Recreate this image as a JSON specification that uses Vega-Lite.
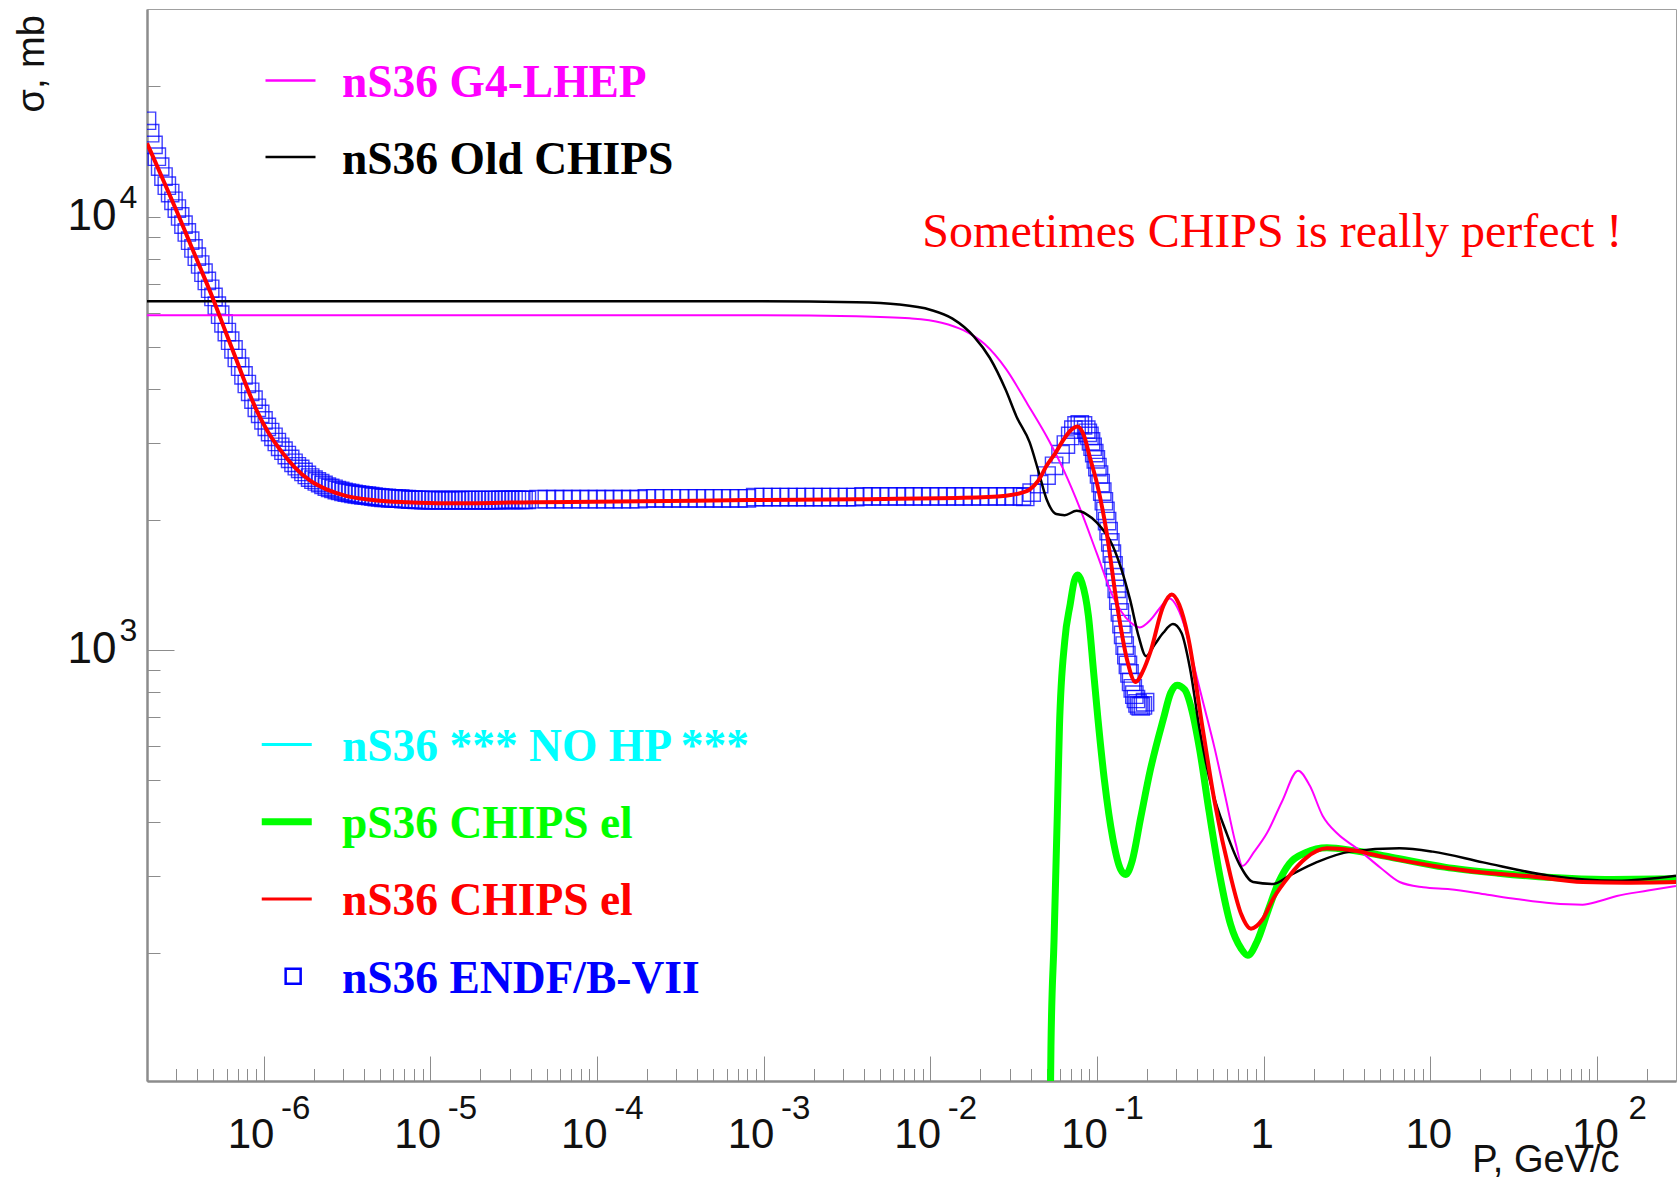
{
  "$schema": "https://vega.github.io/schema/vega-lite/v6.json",
  "width": 1529,
  "height": 1072,
  "autosize": {"type": "none"},
  "padding": {"left": 147, "top": 9, "right": 2, "bottom": 97},
  "background": "white",
  "config": {
    "font": "Liberation Sans",
    "view": {"stroke": "#a0a0a0", "strokeWidth": 1},
    "axis": {"grid": false, "labelColor": "#111111", "tickColor": "#8c8c8c", "labelFont": "Liberation Sans", "labelFlush": false, "labelOverlap": false, "labelBound": false}
  },
  "datasets": {
    "g4lhep": [
      {"p": 2e-7, "sigma": 5929}, {"p": 8.2e-4, "sigma": 5929}, {"p": 3.6e-3, "sigma": 5896}, {"p": 7.53e-3, "sigma": 5829},
      {"p": 1.17e-2, "sigma": 5696}, {"p": 1.58e-2, "sigma": 5474}, {"p": 2.12e-2, "sigma": 5083}, {"p": 2.84e-2, "sigma": 4461},
      {"p": 3.83e-2, "sigma": 3698}, {"p": 5.14e-2, "sigma": 3048}, {"p": 6.32e-2, "sigma": 2600}, {"p": 8.02e-2, "sigma": 2094},
      {"p": 0.1, "sigma": 1668}, {"p": 0.1247, "sigma": 1329}, {"p": 0.1581, "sigma": 1159}, {"p": 0.1807, "sigma": 1127},
      {"p": 0.2094, "sigma": 1172}, {"p": 0.2355, "sigma": 1241}, {"p": 0.2729, "sigma": 1314}, {"p": 0.3027, "sigma": 1256},
      {"p": 0.3412, "sigma": 1108}, {"p": 0.3784, "sigma": 934}, {"p": 0.4385, "sigma": 744}, {"p": 0.5082, "sigma": 593},
      {"p": 0.5888, "sigma": 459}, {"p": 0.6823, "sigma": 355}, {"p": 0.7464, "sigma": 317}, {"p": 0.879, "sigma": 342},
      {"p": 1.05, "sigma": 378}, {"p": 1.288, "sigma": 446}, {"p": 1.611, "sigma": 526}, {"p": 1.892, "sigma": 486},
      {"p": 2.259, "sigma": 414}, {"p": 2.78, "sigma": 376}, {"p": 3.631, "sigma": 348}, {"p": 5.023, "sigma": 314},
      {"p": 6.546, "sigma": 291}, {"p": 9.078, "sigma": 283}, {"p": 13.12, "sigma": 280}, {"p": 22.03, "sigma": 272},
      {"p": 32.81, "sigma": 266}, {"p": 53.46, "sigma": 260}, {"p": 82.04, "sigma": 258}, {"p": 104, "sigma": 263},
      {"p": 131.5, "sigma": 270}, {"p": 202.3, "sigma": 278}, {"p": 298, "sigma": 285}
    ],
    "oldchips": [
      {"p": 2e-7, "sigma": 6383}, {"p": 8.2e-4, "sigma": 6383}, {"p": 3.6e-3, "sigma": 6346}, {"p": 6.5e-3, "sigma": 6273},
      {"p": 1.01e-2, "sigma": 6095}, {"p": 1.36e-2, "sigma": 5821}, {"p": 1.83e-2, "sigma": 5291}, {"p": 2.28e-2, "sigma": 4721},
      {"p": 2.84e-2, "sigma": 3981}, {"p": 3.3e-2, "sigma": 3451}, {"p": 3.95e-2, "sigma": 3013}, {"p": 4.44e-2, "sigma": 2600},
      {"p": 4.99e-2, "sigma": 2228}, {"p": 5.7e-2, "sigma": 2059}, {"p": 6.41e-2, "sigma": 2047}, {"p": 7.55e-2, "sigma": 2094},
      {"p": 8.63e-2, "sigma": 2059}, {"p": 0.1, "sigma": 1967}, {"p": 0.1247, "sigma": 1736}, {"p": 0.1581, "sigma": 1306},
      {"p": 0.1778, "sigma": 1076}, {"p": 0.1972, "sigma": 967}, {"p": 0.2223, "sigma": 1029}, {"p": 0.25, "sigma": 1095},
      {"p": 0.2858, "sigma": 1147}, {"p": 0.3214, "sigma": 1095}, {"p": 0.3614, "sigma": 908}, {"p": 0.413, "sigma": 656},
      {"p": 0.4932, "sigma": 472}, {"p": 0.5984, "sigma": 378}, {"p": 0.7244, "sigma": 317}, {"p": 0.865, "sigma": 291},
      {"p": 1.146, "sigma": 288}, {"p": 1.429, "sigma": 301}, {"p": 2.07, "sigma": 323}, {"p": 3.319, "sigma": 342},
      {"p": 6.546, "sigma": 348}, {"p": 10.35, "sigma": 342}, {"p": 20.75, "sigma": 323}, {"p": 51.88, "sigma": 301},
      {"p": 131.5, "sigma": 293}, {"p": 298, "sigma": 301}
    ],
    "chips_n": [
      {"p": 2e-7, "sigma": 14790}, {"p": 2.249e-7, "sigma": 13360}, {"p": 2.606e-7, "sigma": 11730}, {"p": 3.02e-7, "sigma": 10290},
      {"p": 3.499e-7, "sigma": 8978}, {"p": 4.055e-7, "sigma": 7831}, {"p": 4.989e-7, "sigma": 6455}, {"p": 5.875e-7, "sigma": 5474},
      {"p": 6.808e-7, "sigma": 4721}, {"p": 7.889e-7, "sigma": 4073}, {"p": 9.152e-7, "sigma": 3553}, {"p": 1.062e-6, "sigma": 3190},
      {"p": 1.247e-6, "sigma": 2912}, {"p": 1.535e-6, "sigma": 2644}, {"p": 1.914e-6, "sigma": 2455}, {"p": 2.393e-6, "sigma": 2347},
      {"p": 3.119e-6, "sigma": 2268}, {"p": 4.645e-6, "sigma": 2217}, {"p": 7.244e-6, "sigma": 2193}, {"p": 1.253e-5, "sigma": 2180},
      {"p": 4.266e-5, "sigma": 2193}, {"p": 1.871e-4, "sigma": 2203}, {"p": 8.204e-4, "sigma": 2218}, {"p": 3.597e-3, "sigma": 2228},
      {"p": 1.578e-2, "sigma": 2244}, {"p": 2.844e-2, "sigma": 2270}, {"p": 3.556e-2, "sigma": 2307}, {"p": 3.945e-2, "sigma": 2344},
      {"p": 4.436e-2, "sigma": 2455}, {"p": 4.989e-2, "sigma": 2661}, {"p": 5.623e-2, "sigma": 2844}, {"p": 6.324e-2, "sigma": 3062},
      {"p": 6.918e-2, "sigma": 3206}, {"p": 7.656e-2, "sigma": 3281}, {"p": 8.375e-2, "sigma": 3119}, {"p": 9.141e-2, "sigma": 2754},
      {"p": 0.1, "sigma": 2427}, {"p": 0.1143, "sigma": 1871}, {"p": 0.1306, "sigma": 1306}, {"p": 0.1514, "sigma": 951},
      {"p": 0.1702, "sigma": 843}, {"p": 0.1888, "sigma": 893}, {"p": 0.2094, "sigma": 989}, {"p": 0.25, "sigma": 1262},
      {"p": 0.2812, "sigma": 1343}, {"p": 0.3119, "sigma": 1271}, {"p": 0.3516, "sigma": 1076}, {"p": 0.4315, "sigma": 656},
      {"p": 0.5082, "sigma": 446}, {"p": 0.6339, "sigma": 300}, {"p": 0.7345, "sigma": 245}, {"p": 0.8395, "sigma": 227},
      {"p": 0.9886, "sigma": 239}, {"p": 1.146, "sigma": 267}, {"p": 1.429, "sigma": 301}, {"p": 1.786, "sigma": 330},
      {"p": 2.399, "sigma": 348}, {"p": 3.467, "sigma": 344}, {"p": 5.176, "sigma": 333}, {"p": 10.52, "sigma": 317},
      {"p": 20.75, "sigma": 306}, {"p": 39.81, "sigma": 300}, {"p": 82.04, "sigma": 291}, {"p": 150.3, "sigma": 290},
      {"p": 298, "sigma": 291}
    ],
    "chips_p": [
      {"p": 0.0514, "sigma": 40}, {"p": 0.053, "sigma": 121}, {"p": 0.0553, "sigma": 213}, {"p": 0.0579, "sigma": 421},
      {"p": 0.0596, "sigma": 664}, {"p": 0.0641, "sigma": 1047}, {"p": 0.0692, "sigma": 1277}, {"p": 0.0733, "sigma": 1447},
      {"p": 0.0766, "sigma": 1489}, {"p": 0.0813, "sigma": 1431}, {"p": 0.0889, "sigma": 1199}, {"p": 0.0957, "sigma": 882},
      {"p": 0.1015, "sigma": 691}, {"p": 0.1109, "sigma": 500}, {"p": 0.1247, "sigma": 366}, {"p": 0.1384, "sigma": 312},
      {"p": 0.1489, "sigma": 303}, {"p": 0.1629, "sigma": 326}, {"p": 0.1832, "sigma": 410}, {"p": 0.2094, "sigma": 529},
      {"p": 0.25, "sigma": 691}, {"p": 0.2773, "sigma": 796}, {"p": 0.3027, "sigma": 829}, {"p": 0.3357, "sigma": 810},
      {"p": 0.3784, "sigma": 703}, {"p": 0.413, "sigma": 590}, {"p": 0.4721, "sigma": 421}, {"p": 0.547, "sigma": 300},
      {"p": 0.6339, "sigma": 232}, {"p": 0.7345, "sigma": 204}, {"p": 0.8035, "sigma": 197}, {"p": 0.9183, "sigma": 213},
      {"p": 1.064, "sigma": 250}, {"p": 1.233, "sigma": 291}, {"p": 1.429, "sigma": 321}, {"p": 1.786, "sigma": 340},
      {"p": 2.399, "sigma": 349}, {"p": 3.467, "sigma": 344}, {"p": 5.821, "sigma": 332}, {"p": 12.19, "sigma": 315},
      {"p": 25.53, "sigma": 305}, {"p": 53.46, "sigma": 298}, {"p": 111.9, "sigma": 295}, {"p": 298, "sigma": 296}
    ],
    "endf": [
      {"p": 2.0e-7, "sigma": 16670}, {"p": 2.089e-7, "sigma": 15600}, {"p": 2.188e-7, "sigma": 14660}, {"p": 2.291e-7, "sigma": 13770},
      {"p": 2.399e-7, "sigma": 13060}, {"p": 2.512e-7, "sigma": 12390}, {"p": 2.630e-7, "sigma": 11800}, {"p": 2.754e-7, "sigma": 11350},
      {"p": 2.884e-7, "sigma": 10890}, {"p": 3.020e-7, "sigma": 10450}, {"p": 3.162e-7, "sigma": 10020}, {"p": 3.311e-7, "sigma": 9594},
      {"p": 3.467e-7, "sigma": 9204}, {"p": 3.631e-7, "sigma": 8810}, {"p": 3.802e-7, "sigma": 8453}, {"p": 3.981e-7, "sigma": 8091},
      {"p": 4.169e-7, "sigma": 7762}, {"p": 4.365e-7, "sigma": 7430}, {"p": 4.571e-7, "sigma": 7112}, {"p": 4.786e-7, "sigma": 6823},
      {"p": 5.012e-7, "sigma": 6531}, {"p": 5.248e-7, "sigma": 6237}, {"p": 5.495e-7, "sigma": 5943}, {"p": 5.754e-7, "sigma": 5675},
      {"p": 6.026e-7, "sigma": 5420}, {"p": 6.310e-7, "sigma": 5176}, {"p": 6.607e-7, "sigma": 4943}, {"p": 6.918e-7, "sigma": 4721},
      {"p": 7.244e-7, "sigma": 4508}, {"p": 7.586e-7, "sigma": 4305}, {"p": 7.943e-7, "sigma": 4111}, {"p": 8.318e-7, "sigma": 3945},
      {"p": 8.710e-7, "sigma": 3784}, {"p": 9.120e-7, "sigma": 3622}, {"p": 9.550e-7, "sigma": 3508}, {"p": 1.0e-6, "sigma": 3388},
      {"p": 1.047e-6, "sigma": 3273}, {"p": 1.096e-6, "sigma": 3184}, {"p": 1.148e-6, "sigma": 3105}, {"p": 1.202e-6, "sigma": 3020},
      {"p": 1.259e-6, "sigma": 2944}, {"p": 1.318e-6, "sigma": 2884}, {"p": 1.380e-6, "sigma": 2818}, {"p": 1.445e-6, "sigma": 2761},
      {"p": 1.514e-6, "sigma": 2704}, {"p": 1.585e-6, "sigma": 2655}, {"p": 1.660e-6, "sigma": 2618}, {"p": 1.738e-6, "sigma": 2576},
      {"p": 1.820e-6, "sigma": 2535}, {"p": 1.905e-6, "sigma": 2500}, {"p": 1.995e-6, "sigma": 2472}, {"p": 2.089e-6, "sigma": 2449},
      {"p": 2.188e-6, "sigma": 2427}, {"p": 2.291e-6, "sigma": 2404}, {"p": 2.399e-6, "sigma": 2382}, {"p": 2.512e-6, "sigma": 2366},
      {"p": 2.630e-6, "sigma": 2355}, {"p": 2.754e-6, "sigma": 2339}, {"p": 2.884e-6, "sigma": 2328}, {"p": 3.020e-6, "sigma": 2317},
      {"p": 3.162e-6, "sigma": 2307}, {"p": 3.311e-6, "sigma": 2301}, {"p": 3.467e-6, "sigma": 2291}, {"p": 3.631e-6, "sigma": 2286},
      {"p": 3.802e-6, "sigma": 2280}, {"p": 3.981e-6, "sigma": 2275}, {"p": 4.169e-6, "sigma": 2270}, {"p": 4.365e-6, "sigma": 2265},
      {"p": 4.571e-6, "sigma": 2259}, {"p": 4.786e-6, "sigma": 2254}, {"p": 5.012e-6, "sigma": 2249}, {"p": 5.248e-6, "sigma": 2244},
      {"p": 5.495e-6, "sigma": 2244}, {"p": 5.754e-6, "sigma": 2239}, {"p": 6.026e-6, "sigma": 2239}, {"p": 6.310e-6, "sigma": 2234},
      {"p": 6.607e-6, "sigma": 2234}, {"p": 6.918e-6, "sigma": 2228}, {"p": 7.244e-6, "sigma": 2228}, {"p": 7.586e-6, "sigma": 2223},
      {"p": 7.943e-6, "sigma": 2223}, {"p": 8.318e-6, "sigma": 2220}, {"p": 8.710e-6, "sigma": 2220}, {"p": 9.120e-6, "sigma": 2218},
      {"p": 9.550e-6, "sigma": 2218}, {"p": 1.0e-5, "sigma": 2218}, {"p": 1.047e-5, "sigma": 2216}, {"p": 1.096e-5, "sigma": 2216},
      {"p": 1.148e-5, "sigma": 2216}, {"p": 1.202e-5, "sigma": 2216}, {"p": 1.259e-5, "sigma": 2216}, {"p": 1.318e-5, "sigma": 2216},
      {"p": 1.380e-5, "sigma": 2216}, {"p": 1.445e-5, "sigma": 2216}, {"p": 1.514e-5, "sigma": 2216}, {"p": 1.585e-5, "sigma": 2218},
      {"p": 1.660e-5, "sigma": 2218}, {"p": 1.738e-5, "sigma": 2218}, {"p": 1.820e-5, "sigma": 2218}, {"p": 1.905e-5, "sigma": 2218},
      {"p": 1.995e-5, "sigma": 2218}, {"p": 2.089e-5, "sigma": 2218}, {"p": 2.188e-5, "sigma": 2218}, {"p": 2.291e-5, "sigma": 2218},
      {"p": 2.399e-5, "sigma": 2218}, {"p": 2.512e-5, "sigma": 2218}, {"p": 2.630e-5, "sigma": 2220}, {"p": 2.754e-5, "sigma": 2220},
      {"p": 2.884e-5, "sigma": 2220}, {"p": 3.020e-5, "sigma": 2220}, {"p": 3.162e-5, "sigma": 2220}, {"p": 3.311e-5, "sigma": 2220},
      {"p": 3.467e-5, "sigma": 2220}, {"p": 3.631e-5, "sigma": 2220}, {"p": 3.802e-5, "sigma": 2220},
      {"p": 4.467e-5, "sigma": 2228}, {"p": 5.012e-5, "sigma": 2228}, {"p": 5.623e-5, "sigma": 2228}, {"p": 6.310e-5, "sigma": 2228},
      {"p": 7.079e-5, "sigma": 2228}, {"p": 7.943e-5, "sigma": 2228}, {"p": 8.913e-5, "sigma": 2228}, {"p": 1.0e-4, "sigma": 2228},
      {"p": 1.122e-4, "sigma": 2228}, {"p": 1.259e-4, "sigma": 2228}, {"p": 1.413e-4, "sigma": 2228}, {"p": 1.585e-4, "sigma": 2228},
      {"p": 1.778e-4, "sigma": 2228}, {"p": 1.995e-4, "sigma": 2239}, {"p": 2.239e-4, "sigma": 2239}, {"p": 2.512e-4, "sigma": 2239},
      {"p": 2.818e-4, "sigma": 2239}, {"p": 3.162e-4, "sigma": 2239}, {"p": 3.548e-4, "sigma": 2239}, {"p": 3.981e-4, "sigma": 2239},
      {"p": 4.467e-4, "sigma": 2239}, {"p": 5.012e-4, "sigma": 2239}, {"p": 5.623e-4, "sigma": 2239}, {"p": 6.310e-4, "sigma": 2239},
      {"p": 7.079e-4, "sigma": 2239}, {"p": 7.943e-4, "sigma": 2239}, {"p": 8.913e-4, "sigma": 2254}, {"p": 1.0e-3, "sigma": 2254},
      {"p": 1.122e-3, "sigma": 2254}, {"p": 1.259e-3, "sigma": 2254}, {"p": 1.413e-3, "sigma": 2254}, {"p": 1.585e-3, "sigma": 2254},
      {"p": 1.778e-3, "sigma": 2254}, {"p": 1.995e-3, "sigma": 2254}, {"p": 2.239e-3, "sigma": 2254}, {"p": 2.512e-3, "sigma": 2254},
      {"p": 2.818e-3, "sigma": 2254}, {"p": 3.162e-3, "sigma": 2254}, {"p": 3.548e-3, "sigma": 2254}, {"p": 3.981e-3, "sigma": 2262},
      {"p": 4.467e-3, "sigma": 2262}, {"p": 5.012e-3, "sigma": 2262}, {"p": 5.623e-3, "sigma": 2262}, {"p": 6.310e-3, "sigma": 2262},
      {"p": 7.079e-3, "sigma": 2262}, {"p": 7.943e-3, "sigma": 2262}, {"p": 8.913e-3, "sigma": 2262}, {"p": 1.0e-2, "sigma": 2262},
      {"p": 1.122e-2, "sigma": 2262}, {"p": 1.259e-2, "sigma": 2262}, {"p": 1.413e-2, "sigma": 2262}, {"p": 1.585e-2, "sigma": 2262},
      {"p": 1.778e-2, "sigma": 2262}, {"p": 1.995e-2, "sigma": 2262}, {"p": 2.239e-2, "sigma": 2262}, {"p": 2.512e-2, "sigma": 2262},
      {"p": 2.818e-2, "sigma": 2262}, {"p": 3.162e-2, "sigma": 2262}, {"p": 3.548e-2, "sigma": 2262},
      {"p": 3.715e-2, "sigma": 2255}, {"p": 4.059e-2, "sigma": 2307}, {"p": 4.502e-2, "sigma": 2414}, {"p": 4.989e-2, "sigma": 2527},
      {"p": 5.534e-2, "sigma": 2661}, {"p": 6.051e-2, "sigma": 2831}, {"p": 6.515e-2, "sigma": 2980}, {"p": 6.918e-2, "sigma": 3119},
      {"p": 7.223e-2, "sigma": 3226}, {"p": 7.551e-2, "sigma": 3300}, {"p": 7.893e-2, "sigma": 3319}, {"p": 8.252e-2, "sigma": 3300},
      {"p": 8.630e-2, "sigma": 3226}, {"p": 8.818e-2, "sigma": 3172}, {"p": 9.018e-2, "sigma": 3119}, {"p": 9.219e-2, "sigma": 3030},
      {"p": 9.426e-2, "sigma": 2945}, {"p": 9.638e-2, "sigma": 2847}, {"p": 9.854e-2, "sigma": 2754}, {"p": 0.1007, "sigma": 2644},
      {"p": 0.1030, "sigma": 2541}, {"p": 0.1053, "sigma": 2428}, {"p": 0.1077, "sigma": 2320}, {"p": 0.1101, "sigma": 2204},
      {"p": 0.1125, "sigma": 2094}, {"p": 0.1151, "sigma": 1984}, {"p": 0.1176, "sigma": 1880}, {"p": 0.1203, "sigma": 1771},
      {"p": 0.1230, "sigma": 1668}, {"p": 0.1258, "sigma": 1567}, {"p": 0.1285, "sigma": 1472}, {"p": 0.1315, "sigma": 1383},
      {"p": 0.1344, "sigma": 1299}, {"p": 0.1374, "sigma": 1220}, {"p": 0.1405, "sigma": 1147}, {"p": 0.1437, "sigma": 1083},
      {"p": 0.1468, "sigma": 1023}, {"p": 0.1502, "sigma": 972}, {"p": 0.1535, "sigma": 923}, {"p": 0.1569, "sigma": 882},
      {"p": 0.1604, "sigma": 843}, {"p": 0.1641, "sigma": 815}, {"p": 0.1677, "sigma": 788}, {"p": 0.1715, "sigma": 770},
      {"p": 0.1753, "sigma": 752}, {"p": 0.1793, "sigma": 744}, {"p": 0.1833, "sigma": 740}, {"p": 0.1888, "sigma": 744},
      {"p": 0.1945, "sigma": 757}
    ]
  },
  "layer": [
    {
      "data": {"name": "endf"},
      "mark": {"type": "point", "shape": "square", "filled": false, "size": 300, "strokeWidth": 1.4, "opacity": 0.75, "clip": true},
      "encoding": {
        "x": {
          "field": "p", "type": "quantitative",
          "scale": {"type": "log", "domain": [2e-7, 298], "nice": false},
          "axis": {"orient": "bottom", "title": null, "labels": false, "ticks": true, "tickSize": -25, "tickWidth": 1,
                   "values": [1e-6, 1e-5, 1e-4, 1e-3, 1e-2, 1e-1, 1, 10, 100],
                   "domain": true, "domainColor": "#8c8c8c", "domainWidth": 2.5}
        },
        "y": {
          "field": "sigma", "type": "quantitative",
          "scale": {"type": "log", "domain": [101, 30200], "nice": false},
          "axis": {"orient": "left", "title": null, "labels": false, "ticks": true, "tickSize": -27, "tickWidth": 1,
                   "values": [1000], "domain": true, "domainColor": "#8c8c8c", "domainWidth": 2.5}
        },
        "color": {
          "datum": "nS36 ENDF/B-VII",
          "scale": {"domain": ["nS36 *** NO HP ***", "pS36 CHIPS el", "nS36 CHIPS el", "nS36 ENDF/B-VII"],
                    "range": ["#00ffff", "#00ff00", "#ff0000", "#0000ff"]},
          "legend": {
            "orient": "none", "legendX": 117, "legendY": 715.3, "title": null, "padding": 0,
            "symbolType": {"expr": "datum.value === 'nS36 ENDF/B-VII' ? 'M-0.044,-0.4H0.556V0.2H-0.044Z' : 'M-1,-0.1H1'"},
            "symbolSize": 2500,
            "symbolStrokeWidth": {"expr": "datum.value === 'pS36 CHIPS el' ? 7 : (datum.value === 'nS36 ENDF/B-VII' ? 2.5 : 3)"},
            "symbolFillColor": "transparent", "symbolOpacity": 1,
            "labelColor": {"expr": "datum.value === 'pS36 CHIPS el' ? '#00ff00' : (datum.value === 'nS36 CHIPS el' ? '#ff0000' : (datum.value === 'nS36 ENDF/B-VII' ? '#0000ff' : '#00ffff'))"},
            "labelFont": "Liberation Serif", "labelFontWeight": "bold", "labelFontSize": 45.5,
            "labelLimit": 800, "labelOffset": 32.5, "rowPadding": 30.2
          }
        }
      }
    },
    {
      "data": {"name": "chips_p"},
      "mark": {"type": "line", "strokeWidth": 7, "interpolate": "monotone", "clip": true},
      "encoding": {
        "x": {
          "field": "p", "type": "quantitative",
          "scale": {"type": "log", "domain": [2e-7, 298], "nice": false},
          "axis": {"orient": "bottom", "title": null, "labels": false, "domain": false, "ticks": true, "tickSize": -12.5, "tickWidth": 1,
                   "values": [2e-7, 3e-7, 4e-7, 5e-7, 6e-7, 7e-7, 8e-7, 9e-7,
                              2e-6, 3e-6, 4e-6, 5e-6, 6e-6, 7e-6, 8e-6, 9e-6,
                              2e-5, 3e-5, 4e-5, 5e-5, 6e-5, 7e-5, 8e-5, 9e-5,
                              2e-4, 3e-4, 4e-4, 5e-4, 6e-4, 7e-4, 8e-4, 9e-4,
                              2e-3, 3e-3, 4e-3, 5e-3, 6e-3, 7e-3, 8e-3, 9e-3,
                              2e-2, 3e-2, 4e-2, 5e-2, 6e-2, 7e-2, 8e-2, 9e-2,
                              0.2, 0.3, 0.4, 0.5, 0.6, 0.7, 0.8, 0.9,
                              2, 3, 4, 5, 6, 7, 8, 9,
                              20, 30, 40, 50, 60, 70, 80, 90, 200]}
        },
        "y": {
          "field": "sigma", "type": "quantitative",
          "scale": {"type": "log", "domain": [101, 30200], "nice": false},
          "axis": {"orient": "left", "title": null, "labels": false, "domain": false, "ticks": true, "tickSize": -13, "tickWidth": 1,
                   "values": [200, 300, 400, 500, 600, 700, 800, 900, 2000, 3000, 4000, 5000, 6000, 7000, 8000, 9000, 10000, 20000]}
        },
        "color": {"datum": "pS36 CHIPS el",
                  "scale": {"domain": ["nS36 *** NO HP ***", "pS36 CHIPS el", "nS36 CHIPS el", "nS36 ENDF/B-VII"],
                            "range": ["#00ffff", "#00ff00", "#ff0000", "#0000ff"]}}
      }
    },
    {
      "data": {"name": "g4lhep"},
      "mark": {"type": "line", "strokeWidth": 2, "interpolate": "monotone", "clip": true},
      "encoding": {
        "x": {
          "field": "p", "type": "quantitative",
          "scale": {"type": "log", "domain": [2e-7, 298], "nice": false},
          "axis": {"orient": "bottom", "title": null, "domain": false, "ticks": false, "labels": true,
                   "values": [1e-6, 1e-5, 1e-4, 1e-3, 1e-2, 1e-1, 1, 10, 100],
                   "labelExpr": "datum.value == 1 ? '1' : '10'",
                   "labelFontSize": 42, "labelBaseline": "alphabetic", "labelAlign": "center", "labelPadding": 66,
                   "labelOffset": {"condition": {"test": "datum.value < 0.5", "value": -13}, "value": -2}}
        },
        "y": {
          "field": "sigma", "type": "quantitative",
          "scale": {"type": "log", "domain": [101, 30200], "nice": false},
          "axis": {"orient": "left", "domain": false, "ticks": false, "labels": true,
                   "values": [1000, 10000], "labelExpr": "'10'",
                   "labelFontSize": 44, "labelAlign": "right", "labelBaseline": "middle", "labelPadding": 31,
                   "title": "σ, mb", "titleFont": "Liberation Sans", "titleFontWeight": "normal", "titleFontSize": 38,
                   "titleColor": "#111111", "titleAngle": 270, "titleAlign": "left", "titleBaseline": "alphabetic",
                   "titleX": -104, "titleY": 103}
        },
        "stroke": {
          "datum": "nS36 G4-LHEP",
          "scale": {"domain": ["nS36 G4-LHEP", "nS36 Old CHIPS"], "range": ["#ff00ff", "#000000"]},
          "legend": {
            "orient": "none", "legendX": 117, "legendY": 47.5, "title": null, "padding": 0,
            "symbolType": "M-1,-0.1H1", "symbolSize": 2500, "symbolStrokeWidth": 2.5,
            "labelColor": {"expr": "datum.value === 'nS36 G4-LHEP' ? '#ff00ff' : '#000000'"},
            "labelFont": "Liberation Serif", "labelFontWeight": "bold", "labelFontSize": 45.5,
            "labelLimit": 800, "labelOffset": 25, "rowPadding": 26.6
          }
        }
      }
    },
    {
      "data": {"name": "oldchips"},
      "mark": {"type": "line", "strokeWidth": 2.5, "interpolate": "monotone", "clip": true},
      "encoding": {
        "x": {
          "field": "p", "type": "quantitative",
          "scale": {"type": "log", "domain": [2e-7, 298], "nice": false},
          "axis": {"orient": "bottom", "domain": false, "ticks": false, "labels": true,
                   "values": [1e-6, 1e-5, 1e-4, 1e-3, 1e-2, 1e-1, 100],
                   "labelExpr": "datum.value < 1 ? '-' + round(-log(datum.value) / LN10) : '2'",
                   "labelFontSize": 33, "labelBaseline": "alphabetic", "labelAlign": "left", "labelPadding": 37,
                   "labelOffset": {"condition": {"test": "datum.value < 0.5", "value": 17}, "value": 31},
                   "title": "P, GeV/c", "titleFont": "Liberation Sans", "titleFontWeight": "normal", "titleFontSize": 38,
                   "titleColor": "#111111", "titleAlign": "right", "titleBaseline": "alphabetic",
                   "titleX": 1472, "titleY": 90}
        },
        "y": {
          "field": "sigma", "type": "quantitative",
          "scale": {"type": "log", "domain": [101, 30200], "nice": false},
          "axis": {"orient": "left", "title": null, "domain": false, "ticks": false, "labels": true,
                   "values": [1000, 10000], "labelExpr": "datum.value < 5000 ? '3' : '4'",
                   "labelFontSize": 32, "labelAlign": "left", "labelBaseline": "middle", "labelPadding": 28,
                   "labelOffset": -19}
        },
        "stroke": {"datum": "nS36 Old CHIPS",
                   "scale": {"domain": ["nS36 G4-LHEP", "nS36 Old CHIPS"], "range": ["#ff00ff", "#000000"]}}
      }
    },
    {
      "data": {"name": "chips_n"},
      "mark": {"type": "line", "strokeWidth": 4, "interpolate": "monotone", "clip": true},
      "encoding": {
        "x": {"field": "p", "type": "quantitative", "scale": {"type": "log", "domain": [2e-7, 298], "nice": false}, "axis": null},
        "y": {"field": "sigma", "type": "quantitative", "scale": {"type": "log", "domain": [101, 30200], "nice": false}, "axis": null},
        "color": {"datum": "nS36 CHIPS el",
                  "scale": {"domain": ["nS36 *** NO HP ***", "pS36 CHIPS el", "nS36 CHIPS el", "nS36 ENDF/B-VII"],
                            "range": ["#00ffff", "#00ff00", "#ff0000", "#0000ff"]}}
      }
    },
    {
      "data": {"values": [{}]},
      "mark": {"type": "text", "font": "Liberation Serif", "fontSize": 48, "fill": "#ff0000", "align": "left", "baseline": "alphabetic"},
      "encoding": {
        "x": {"datum": 0.00897, "type": "quantitative", "scale": {"type": "log", "domain": [2e-7, 298], "nice": false}, "axis": null},
        "y": {"datum": 8520, "type": "quantitative", "scale": {"type": "log", "domain": [101, 30200], "nice": false}, "axis": null},
        "text": {"value": "Sometimes CHIPS is really perfect !"}
      }
    }
  ],
  "resolve": {"axis": {"x": "independent", "y": "independent"}}
}
